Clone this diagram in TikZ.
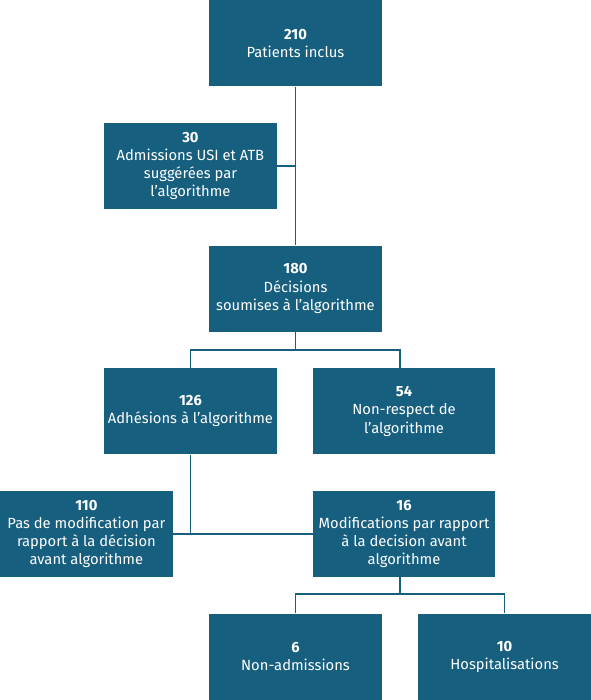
\documentclass[tikz,border=0pt]{standalone}
\usepackage{fontspec}
\setmainfont{Fira Sans}
\usepackage{tikz}
\usetikzlibrary{positioning}
\definecolor{petrol}{HTML}{175F7F}
\newcommand{\cnt}[1]{\textbf{#1}}

\begin{document}
\begin{tikzpicture}[
  node distance=36.2pt and 0pt,
  flowbox/.style={draw=none,fill=petrol,text=white,minimum width=173pt,minimum height=86.5pt,inner sep=2pt,align=center,font=\fontsize{14.8}{18.3}\selectfont},
  widebox/.style={flowbox,minimum width=182pt},
  link/.style={draw=petrol,line width=1.6pt}
]
\node[flowbox] (incl) {\cnt{210}\\Patients inclus};
\node[flowbox,below left=36.2pt and -68pt of incl] (usi) {\cnt{30}\\Admissions USI et ATB\\suggérées par\\l’algorithme};
\node[flowbox,below right=36.2pt and -68pt of usi] (dec) {\cnt{180}\\Décisions\\soumises à l’algorithme};
\node[flowbox,below left=36.2pt and -68pt of dec] (adh) {\cnt{126}\\Adhésions à l’algorithme};
\node[widebox,below right=36.2pt and -69pt of dec] (nonresp) {\cnt{54}\\Non-respect de\\l’algorithme};
\node[flowbox,below left=36.2pt and -69pt of adh] (pasmod) {\cnt{110}\\Pas de modification par\\rapport à la décision\\avant algorithme};
\node[widebox,below=of nonresp] (modif) {\cnt{16}\\Modifications par rapport\\à la decision avant\\algorithme};
\node[flowbox,below left=36.2pt and -69pt of modif] (nonadm) {\cnt{6}\\Non-admissions};
\node[flowbox,below right=36.2pt and -77pt of modif] (hosp) {\cnt{10}\\Hospitalisations};
\path[use as bounding box] (pasmod.west |- incl.north) rectangle (hosp.south east);
% branch points
\coordinate (split1) at ([yshift=-18pt]dec.south);
\coordinate (split2) at ([xshift=-4pt,yshift=-17pt]modif.south);
\draw[link] (incl)--(dec);
\draw[link] (usi.east)--(usi.east -| incl);
\draw[link] (dec.south)--(split1);
\draw[link] (adh.north)|-(split1)-|([xshift=-4pt]nonresp.north);
\draw[link] (adh.south)--(adh.south |- pasmod.east);
\draw[link] (pasmod.east)--(modif.west);
\draw[link] ([xshift=-4pt]modif.south)--(split2);
\draw[link] (nonadm.north)|-(split2)-|(hosp.north);
\end{tikzpicture}
\end{document}
